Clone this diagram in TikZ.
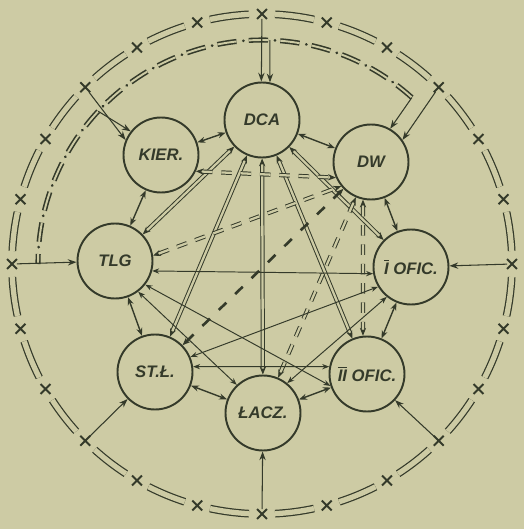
\documentclass[tikz,border=0pt]{standalone}
\usepackage{fontspec}
\setmainfont{Liberation Sans}
\usetikzlibrary{shapes.misc,arrows.meta}
\definecolor{paper}{RGB}{205,203,164}
\definecolor{ink}{RGB}{52,58,42}
\newcommand{\rnm}[1]{$\overline{\mbox{#1}}$}

\begin{document}
\begin{tikzpicture}[
    post/.style={circle, draw=ink, fill=paper, line width=1.1pt, minimum size=1.5cm, inner sep=0pt,
                 font=\fontsize{9.5}{11}\selectfont\bfseries\itshape, text=ink},
    xmark/.style={cross out, draw=ink, line width=1.1pt, minimum size=4.5pt, inner sep=0pt},
    ring/.style={draw=ink, double=paper, double distance=3pt, line width=0.7pt},
    inring/.style={draw=ink, double=paper, double distance=1.1pt, line width=0.9pt, dash pattern=on 11pt off 7pt},
    indots/.style={draw=ink, line width=1.6pt, line cap=round, dash pattern=on 0.1pt off 17.9pt, dash phase=4pt},
    link/.style={{Stealth[length=4.5pt,width=3.4pt]}-{Stealth[length=4.5pt,width=3.4pt]}, draw=ink, line width=0.8pt},
    wire/.style={{Stealth[length=4pt,width=3pt]}-{Stealth[length=4pt,width=3pt]}, draw=ink, line width=0.55pt},
    tipsonly/.style={{Stealth[length=4.5pt,width=3.6pt]}-{Stealth[length=4.5pt,width=3.6pt]}, draw=ink, line width=0.5pt, dash pattern=on 0pt off 600pt},
    dbl/.style={draw=ink, double=paper, double distance=1.3pt, line width=0.55pt, shorten <=3.5pt, shorten >=3.5pt},
    ddash/.style={dbl, dash pattern=on 6pt off 5pt},
    tdash/.style={{Stealth[length=4.5pt,width=3.6pt]}-{Stealth[length=4.5pt,width=3.6pt]}, draw=ink, line width=1.5pt, dash pattern=on 6pt off 7pt},
    feed/.style={-{Stealth[length=5pt,width=3.6pt]}, draw=ink, line width=0.6pt}
  ]
  \fill[paper] (-5.24,-5.30) rectangle (5.24,5.28);

  \foreach \a in {0,15,...,345} {
    \node[xmark] (x\a) at (\a:5) {};
    \draw[ring] ({\a+3}:5) arc[start angle=\a+3, end angle=\a+12, radius=5];
  }

  \draw[inring] (48:4.48) arc[start angle=48, end angle=180, radius=4.48];
  \draw[indots] (48:4.48) arc[start angle=48, end angle=180, radius=4.48];
  \coordinate (r48) at (48:4.48);
  \coordinate (r88) at (88:4.48);
  \coordinate (r137) at (137:4.48);

  \node[post] (dca)    at (0,2.88)      {DCA};
  \node[post] (dw)     at (2.18,2.04)   {DW};
  \node[post] (iofic)  at (2.98,-0.06)  {\rnm{I} OFIC.};
  \node[post] (iiofic) at (2.10,-2.20)  {\rnm{II} OFIC.};
  \node[post] (lacz)   at (0.02,-2.98)  {ŁACZ.};
  \node[post] (stl)    at (-2.14,-2.16) {ST.Ł.};
  \node[post] (tlg)    at (-2.94,0.06)  {TLG};
  \node[post] (kier)   at (-2.02,2.18)  {KIER.};

  \draw[feed] (x0) -- (iofic);
  \draw[feed] (x45) -- (dw.35);
  \draw[feed] (x90) -- (dca.91);
  \draw[feed] (x135) -- (kier.157);
  \draw[feed] (x180) -- (tlg);
  \draw[feed] (x225) -- (stl);
  \draw[feed] (x270) -- (lacz);
  \draw[feed] (x315) -- (iiofic);
  \draw[feed] (r48) -- (dw.60);
  \draw[feed] (r88) -- (dca.78);
  \draw[feed] (r137) -- (kier.142);

  \draw[link] (dca) -- (dw);
  \draw[link] (dw) -- (iofic);
  \draw[link] (iofic) -- (iiofic);
  \draw[link] (iiofic) -- (lacz);
  \draw[link] (lacz) -- (stl);
  \draw[link] (stl) -- (tlg);
  \draw[link] (tlg) -- (kier);
  \draw[link] (kier) -- (dca);

  \foreach \t in {tlg,stl,lacz,iiofic,iofic} {
    \draw[tipsonly] (dca) -- (\t);
    \draw[dbl] (dca) -- (\t);
  }

  \draw[tipsonly] (kier.-25) -- (dw.204);
  \draw[ddash] (kier.-25) -- (dw.204);
  \draw[tipsonly] (tlg.8) -- (dw.219);
  \draw[ddash] (tlg.8) -- (dw.219);
  \draw[tipsonly] (lacz) -- (dw);
  \draw[ddash] (lacz) -- (dw);
  \draw[tipsonly] (dw.258) -- (iiofic.96);
  \draw[ddash] (dw.258) -- (iiofic.96);
  \draw[tdash] (stl) -- (dw);

  \draw[wire] (tlg.-15) -- (iofic.190);
  \draw[wire] (stl.8) -- (iiofic.169);
  \draw[wire] (tlg.-38) -- (iiofic.198);
  \draw[wire] (stl.23) -- (iofic.211);
  \draw[wire] (tlg.-53) -- (lacz.133);
  \draw[wire] (lacz.51) -- (iofic.231);
\end{tikzpicture}
\end{document}
